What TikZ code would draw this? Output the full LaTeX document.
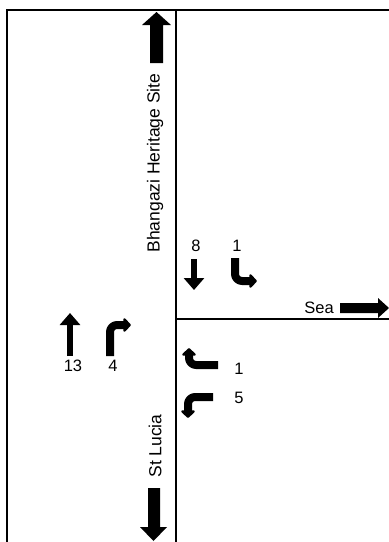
\documentclass[tikz,border=0pt]{standalone}
\usepackage{fontspec}
\setmainfont{Liberation Sans}
\usetikzlibrary{arrows.meta}
\begin{document}
\begin{tikzpicture}[x=1pt,y=-1pt,
  frameline/.style={line width=2pt, line cap=rect},
  bigarrow/.style={fill=black},
  turnarrow/.style={line width=8pt, rounded corners=7pt, line join=round, -{Triangle[width=16pt,length=8pt,round]}},
  straightarrow/.style={line width=6.5pt, -{Triangle[width=20pt,length=12pt]}},
  lbl/.style={font=\fontsize{16.5}{16.5}\selectfont, inner sep=0pt},
  rlbl/.style={font=\fontsize{17.5}{17.5}\selectfont, inner sep=0pt, rotate=90}]
\useasboundingbox (0,0) rectangle (389,542);
% frame and roads
\draw[frameline] (7,550) -- (7,10) -- (395,10);
\draw[frameline] (176,10) -- (176,550);
\draw[frameline] (176,319) -- (395,319);
% big direction arrows
\fill[bigarrow] (150,63) -- (150,25) -- (142,25) -- (156.5,12) -- (171,25) -- (163,25) -- (163,63) -- cycle;
\fill[bigarrow] (148,488) -- (160,488) -- (160,527) -- (167,527) -- (153.5,541) -- (140,527) -- (148,527) -- cycle;
\fill[bigarrow] (340,303) -- (378,303) -- (378,298) -- (389,308) -- (378,318) -- (378,313) -- (340,313) -- cycle;
% road names
\node[rlbl] (bhangazi) at (155,163) {Bhangazi Heritage Site};
\node[rlbl] (stlucia) at (155,446) {St Lucia};
\node[lbl] (sea) at (319,308) {Sea};
% movement arrows
\draw[straightarrow] (194,259) -- (194,290);
\draw[turnarrow] (235,258) -- (235,281) -- (257,281);
\draw[straightarrow] (70,356) -- (70,313);
\draw[turnarrow] (110,356) -- (110,325) -- (131,325);
\draw[turnarrow] (218,365) -- (189,365) -- (189,348);
\draw[turnarrow] (213,397) -- (188,397) -- (188,418);
% counts
\node[lbl] (n8) at (196,246) {8};
\node[lbl] (n1a) at (237,246) {1};
\node[lbl] (n13) at (73,366) {13};
\node[lbl] (n4) at (113,366) {4};
\node[lbl] (n1b) at (239,369) {1};
\node[lbl] (n5) at (239,398) {5};
\end{tikzpicture}
\end{document}
